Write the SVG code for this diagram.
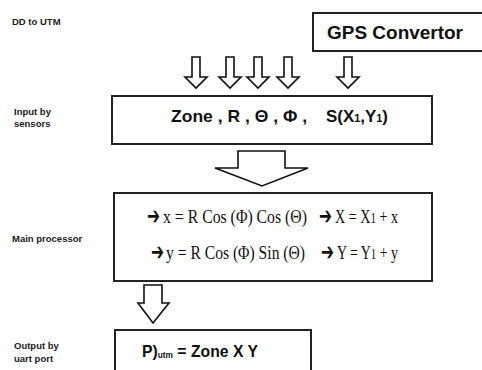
<svg xmlns="http://www.w3.org/2000/svg" width="482" height="370" viewBox="0 0 482 370">
<style>
.box{fill:#fff;stroke:#222;stroke-width:2}
.arr{fill:#fff;stroke:#111;stroke-width:1.6;stroke-linejoin:miter}
.lbl{font-family:"Liberation Sans",Arial,sans-serif;font-weight:bold;font-size:9.5px;fill:#222}
.big{font-family:"Liberation Sans",Arial,sans-serif;font-weight:bold;fill:#111}
.ser{font-family:"Liberation Serif","Times New Roman",serif;font-size:19px;fill:#111}
.ar{font-family:"DejaVu Sans",sans-serif;font-size:24px;font-weight:bold;fill:#111}
</style>
<rect width="482" height="370" fill="#fff"/>
<g id="labels">
<text class="lbl" x="12" y="25">DD to UTM</text>
<text class="lbl" x="14" y="115">Input by</text>
<text class="lbl" x="14" y="127">sensors</text>
<text class="lbl" x="12" y="242">Main processor</text>
<text class="lbl" x="14" y="349">Output by</text>
<text class="lbl" x="14" y="362">uart port</text>
</g>
<g id="gps">
<rect class="box" x="313" y="13" width="172" height="38"/>
<text class="big" x="327" y="38.5" font-size="18" textLength="136" lengthAdjust="spacingAndGlyphs">GPS Convertor</text>
</g>
<g id="input">
<rect class="box" x="112" y="96" width="320" height="48"/>
<text class="big" x="171" y="122" font-size="17" textLength="136" lengthAdjust="spacingAndGlyphs">Zone , R , Θ , Φ ,</text>
<text class="big" x="326" y="122" font-size="17" textLength="62" lengthAdjust="spacingAndGlyphs">S(X<tspan font-size="11">1</tspan>,Y<tspan font-size="11">1</tspan>)</text>
</g>
<g id="processor">
<rect class="box" x="114" y="193" width="318" height="88"/>
<text class="ar" x="147" y="224" textLength="13" lengthAdjust="spacingAndGlyphs">➔</text>
<text class="ser" x="163" y="223" textLength="144" lengthAdjust="spacingAndGlyphs">x = R Cos (Φ) Cos (Θ)</text>
<text class="ar" x="319" y="224" textLength="13" lengthAdjust="spacingAndGlyphs">➔</text>
<text class="ser" x="335" y="223" textLength="63" lengthAdjust="spacingAndGlyphs">X = X<tspan font-size="15">1</tspan> + x</text>
<text class="ar" x="151" y="260" textLength="13" lengthAdjust="spacingAndGlyphs">➔</text>
<text class="ser" x="166" y="259" textLength="139" lengthAdjust="spacingAndGlyphs">y = R Cos (Φ) Sin (Θ)</text>
<text class="ar" x="321" y="260" textLength="13" lengthAdjust="spacingAndGlyphs">➔</text>
<text class="ser" x="337" y="259" textLength="61" lengthAdjust="spacingAndGlyphs">Y = Y<tspan font-size="15">1</tspan> + y</text>
</g>
<g id="output">
<rect class="box" x="115" y="330" width="196" height="50"/>
<text class="big" x="142" y="357" font-size="17" textLength="116" lengthAdjust="spacingAndGlyphs">P)<tspan font-size="9" dy="1">utm</tspan><tspan dy="-1"> = Zone X Y</tspan></text>
</g>
<g id="connectors">
<polygon class="arr" points="192,57 200,57 200,77 207,77 196,88 185,77 192,77"/>
<polygon class="arr" points="226,57 234,57 234,77 241,77 230,88 219,77 226,77"/>
<polygon class="arr" points="254,57 262,57 262,77 269,77 258,88 247,77 254,77"/>
<polygon class="arr" points="284,57 292,57 292,77 299,77 288,88 277,77 284,77"/>
<polygon class="arr" points="344,57 352,57 352,77 359,77 348,88 337,77 344,77"/>
<polygon class="arr" points="238,151 285,151 285,168 308,168 262,186 215,168 238,168"/>
<polygon class="arr" points="144,285 162,285 162,303 169,303 153,323 138,303 144,303"/>
</g>
</svg>
